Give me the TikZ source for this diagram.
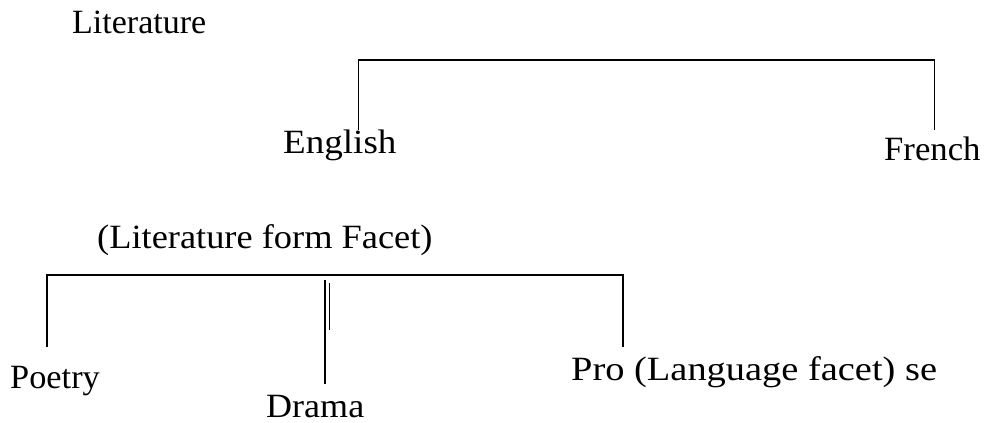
\documentclass[tikz,border=0pt]{standalone}
\usepackage{fontspec}
\usepackage{graphicx}
\setmainfont{Liberation Serif}
\tikzset{
  lbl/.style={anchor=base west, inner sep=0pt, font=\fontsize{34}{40}\selectfont},
  vlink/.style={line width=1.7pt, line cap=butt},
  hlink/.style={line width=1.2pt, line cap=rect},
}
\begin{document}
\begin{tikzpicture}[x=1pt,y=-1pt]
\useasboundingbox (0,0) rectangle (988,423);
% top tree
\node[lbl] (lit) at (72,34) {Literature};
\node[lbl] (eng) at (283,153) {\scalebox{1.09}[1]{English}};
\node[lbl] (fre) at (884,160.5) {\scalebox{1.02}[1]{French}};
\coordinate (tl) at (358.5,60);
\coordinate (tr) at (934.5,60);
\coordinate (el) at (358.5,130);
\coordinate (fr) at (934.5,130);
\draw[vlink] (el) -- (tl);
\draw[hlink] (tl) -- (tr);
\draw[vlink] (tr) -- (fr);
% bottom tree
\node[lbl] (lff) at (97,248) {\scalebox{1.07}[1]{(Literature form Facet)}};
\node[lbl] (poe) at (10,388) {\scalebox{1.01}[1]{Poetry}};
\node[lbl] (dra) at (266,417) {\scalebox{1.06}[1]{Drama}};
\node[lbl] (pro) at (571,380) {\scalebox{1.13}[1]{Pro (Language facet) se}};
\coordinate (bl) at (47,275);
\coordinate (br) at (623,275);
\coordinate (pl) at (47,347);
\coordinate (pr) at (623,347);
\coordinate (dt) at (325,280);
\coordinate (db) at (325,384);
\coordinate (d2t) at (329.5,283);
\coordinate (d2b) at (329.5,330);
\draw[vlink] (pl) -- (bl);
\draw[hlink] (bl) -- (br);
\draw[vlink] (br) -- (pr);
\draw[vlink] (dt) -- (db);
\draw[vlink] (d2t) -- (d2b);
\end{tikzpicture}
\end{document}
